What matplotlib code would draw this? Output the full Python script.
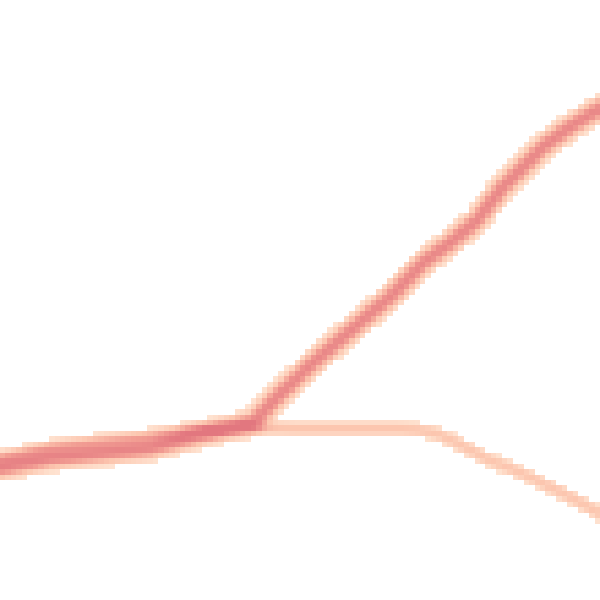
import numpy as np
import matplotlib
matplotlib.use("Agg")
import matplotlib.pyplot as plt
from matplotlib.colors import LinearSegmentedColormap

# Centerline of the dense (rising) trajectory bundle, in picture units (0-600, y down)
main_x = [0, 50, 100, 150, 200, 240, 253, 262, 277, 297, 313, 343, 390, 423, 450, 477, 503, 523, 543, 570, 600]
main_y = [468, 458, 453, 448, 435, 425, 422, 413, 397, 378, 363, 337, 297, 263, 243, 220, 187, 167, 147, 127, 108]
main_weight = 0.85

# Centerline of the faint (branching, falling) trajectory bundle
branch_x = [0, 50, 100, 150, 200, 260, 300, 350, 400, 415, 430, 440, 455, 470, 490, 510, 530, 550, 570, 590, 600]
branch_y = [458, 447, 441, 436, 430, 428, 429, 429, 429, 430, 432, 435, 442, 450, 460, 468, 477, 487, 497, 508, 514]
branch_weight = 0.38

n_bins = 110
extent = 600

centers = (np.arange(n_bins) + 0.5) * extent / n_bins
X, Y = np.meshgrid(centers, centers)


def bundle_density(px, py, sigma, weight, samples=700):
    px = np.asarray(px, float)
    py = np.asarray(py, float)
    seg = np.hypot(np.diff(px), np.diff(py))
    cum = np.concatenate([[0], np.cumsum(seg)])
    s = np.linspace(0, cum[-1], samples)
    xs = np.interp(s, cum, px)
    ys = np.interp(s, cum, py)
    out = np.zeros_like(X)
    for x0, y0 in zip(xs, ys):
        d2 = (X - x0) ** 2 + (Y - y0) ** 2
        np.maximum(out, np.exp(-d2 / (2 * sigma ** 2)), out=out)
    return weight * out


Z = bundle_density(main_x, main_y, 7.0, main_weight) + bundle_density(branch_x, branch_y, 4.8, branch_weight)

cmap = LinearSegmentedColormap.from_list(
    "bundle",
    [(0.0, (1.0, 0.89, 0.82)),
     (0.3, (0.99, 0.78, 0.69)),
     (0.6, (0.95, 0.62, 0.58)),
     (1.0, (0.89, 0.47, 0.50))],
)
cmap.set_under("white")

fig = plt.figure(figsize=(6, 6), dpi=100)
ax = fig.add_axes([0, 0, 1, 1])
ax.imshow(Z, cmap=cmap, vmin=0.1, vmax=1.0, interpolation="nearest",
          extent=(0, extent, extent, 0), aspect="auto")
ax.set_xlim(0, extent)
ax.set_ylim(extent, 0)
ax.axis("off")
fig.savefig("out.png", dpi=100, facecolor="white")
